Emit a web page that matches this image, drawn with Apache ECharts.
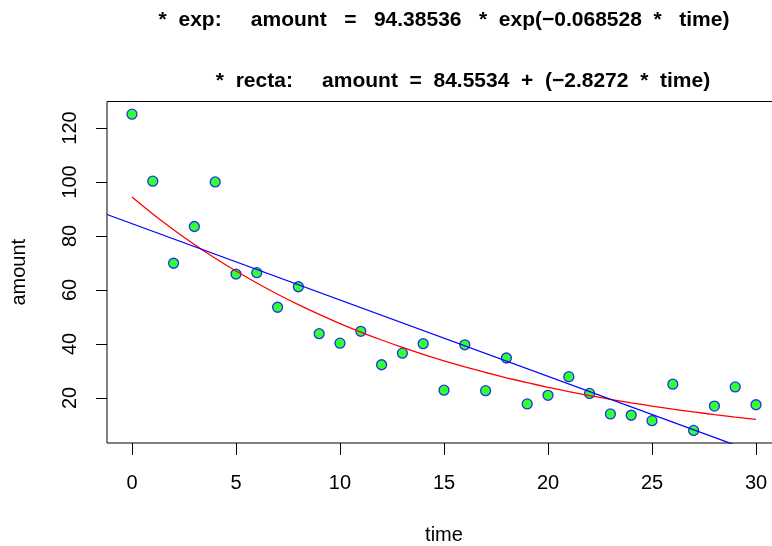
<!DOCTYPE html>
<html>
<head>
<meta charset="utf-8">
<script src="https://cdn.jsdelivr.net/npm/echarts@6/dist/echarts.min.js"></script>
<style>
html,body{margin:0;padding:0;background:#fff;}
#chart{width:772px;height:546px;}
</style>
</head>
<body>
<div id="chart"></div>
<script>
// observed data
var time = [0,1,2,3,4,5,6,7,8,9,10,11,12,13,14,15,16,17,18,19,20,21,22,23,24,25,26,27,28,29,30];
var amount = [125.1,100.3,69.9,83.5,100.0,65.9,66.4,53.6,61.2,43.8,40.3,44.7,32.3,36.6,40.1,22.9,39.7,22.7,34.8,17.8,21.0,27.9,21.7,14.1,13.6,11.6,25.1,8.0,17.0,24.1,17.5];
// fitted exponential curve, sampled at each time
var expFit = [94.39,88.13,82.30,76.85,71.76,67.01,62.57,58.42,54.56,50.94,47.57,44.42,41.47,38.73,36.16,33.77,31.53,29.44,27.49,25.67,23.97,22.38,20.90,19.52,18.22,17.02,15.89,14.84,13.86,12.94,12.08];
// fitted straight line, end points across the plot region
var lineX = [-1.2, 31.2];
var lineY = [87.95, -3.65];
// ticks
var xTicks = [0,5,10,15,20,25,30];
var yTicks = [20,40,60,80,100,120];
var titleExp = "*  exp:     amount   =   94.38536   *  exp(−0.068528  *   time)";
var titleRecta = "*  recta:     amount  =  84.5534  +  (−2.8272  *  time)";

var pts = time.map(function(t,i){return [t, amount[i]];});
var expPts = time.map(function(t,i){return [t, expFit[i]];});
var linPts = lineX.map(function(x,i){return [x, lineY[i]];});

var FONT = 'Liberation Sans, Arial, Helvetica, sans-serif';
var chart = echarts.init(document.getElementById('chart'), null, {renderer:'canvas'});
chart.setOption({
  animation:false,
  backgroundColor:'#ffffff',
  title:[
    {text:titleExp, left:444, top:10, textAlign:'center', padding:0,
     textStyle:{fontSize:21, fontWeight:'bold', fontFamily:FONT, color:'#000'}},
    {text:titleRecta, left:463, top:71, textAlign:'center', padding:0,
     textStyle:{fontSize:21, fontWeight:'bold', fontFamily:FONT, color:'#000'}}
  ],
  grid:{left:107, top:101.5, width:674, height:341.5, containLabel:false, outerBoundsMode:'none',
        show:true, borderColor:'#000', borderWidth:1, backgroundColor:'transparent'},
  xAxis:{
    type:'value', min:-1.2, max:31.2,
    name:'time', nameLocation:'middle', nameGap:82, nameMoveOverlap:false,
    nameTextStyle:{fontSize:20, fontFamily:FONT, color:'#000'},
    axisLine:{show:false, onZero:false},
    splitLine:{show:false},
    axisTick:{show:true, length:12, customValues:xTicks, lineStyle:{color:'#000', width:1}},
    axisLabel:{customValues:xTicks, margin:30, fontSize:20, fontFamily:FONT, color:'#000'}
  },
  yAxis:{
    type:'value', min:3.33, max:129.8,
    name:'amount', nameLocation:'middle', nameGap:78, nameMoveOverlap:false,
    nameTextStyle:{fontSize:20, fontFamily:FONT, color:'#000'},
    axisLine:{show:false, onZero:false},
    splitLine:{show:false},
    axisTick:{show:true, length:11, customValues:yTicks, lineStyle:{color:'#000', width:1}},
    axisLabel:{customValues:yTicks, rotate:90, margin:27, fontSize:20, fontFamily:FONT, color:'#000'}
  },
  series:[
    {type:'scatter', data:pts, symbol:'circle', symbolSize:10, z:2,
     itemStyle:{color:'#00ff00', borderColor:'#0000ff', borderWidth:1.3}},
    {type:'line', data:expPts, showSymbol:false, smooth:0.3, z:3, clip:true,
     lineStyle:{color:'#ff0000', width:1.3}},
    {type:'line', data:linPts, showSymbol:false, z:4, clip:true,
     lineStyle:{color:'#0000ff', width:1.3}}
  ]
});
</script>
</body>
</html>
